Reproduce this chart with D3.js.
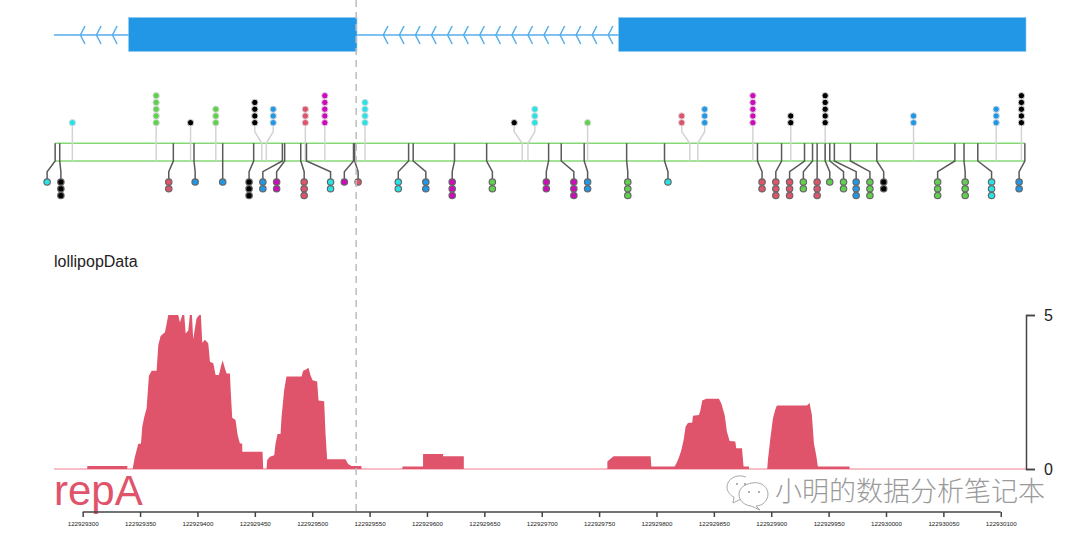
<!DOCTYPE html>
<html><head><meta charset="utf-8">
<script src="https://cdn.jsdelivr.net/npm/d3@7"></script>
<style>html,body{margin:0;background:#fff}svg{display:block}text{font-family:"Liberation Sans",Arial,sans-serif}</style>
</head><body><svg id="c" width="1080" height="540"></svg>
<script>
const base = 122929000;
const xDomain = [275, 1122];
const xTicks = [300,350,400,450,500,550,600,650,700,750,800,850,900,950,1000,1050,1100];
const yTicks = [0,5];
const geneSpan = [275,1122];
const exons = [[340,539],[767,1122]];
const intronArrows = [298,312,326,562,576,590,604,618,632,646,660,674,688,702,716,730,744,758];
const cutLine = 539;

const upPos   = [291,364,394,416,456,460,494,511,546,683,688,740,829,836,884,917,947,1024,1096,1118];
const upHead  = [291,364,394,416,450,466,494,511,546,676,694,740,822,842,884,917,947,1024,1096,1118];
const upCount = [1,5,1,3,4,3,3,5,4,1,3,1,2,3,5,2,5,2,3,5];
const upColor = ["cyan","green","black","green","black","blue","red","magenta","cyan","black","cyan","green","red","blue","magenta","black","black","blue","blue","black"];

const lowPos   = [276,280,379,397,422,449,474,476,490,495,536,537,584,588,624,652,706,717,737,774,807,888,909,929,936,940,947,951,955,969,992,1060,1068,1080,1121];
const lowHead  = [269,281,375,398,422,445,457,469,493,516,528,540,575,599,622,657,704,728,740,775,810,892,904,916,928,940,951,963,974,986,998,1045,1069,1092,1116];
const lowCount = [1,3,2,1,1,3,2,2,3,2,1,1,2,2,3,2,2,3,2,3,1,2,3,3,2,3,1,2,3,3,2,3,3,3,2];
const lowColor = ["cyan","black","red","blue","blue","black","blue","magenta","red","cyan","magenta","red","cyan","blue","magenta","green","magenta","magenta","blue","green","cyan","red","red","red","green","red","green","green","blue","green","black","green","green","cyan","blue"];

const palette = {cyan:"#28E2E5",black:"#000000",green:"#61D04F",red:"#DF536B",magenta:"#CD0BBC",blue:"#2297E6"};

const covPos = [304,304,338.9,338.9,343.5,345.5,348.4,350.8,351.9,353.7,355.7,357.7,360.1,364.4,365.9,367.9,371.7,374.6,383.3,384.7,386.8,388.5,389.7,392,393.4,395.2,396.3,397.8,399.2,401.6,403,404.2,406.5,409.4,410.9,413.8,415.8,418.7,420.1,421.9,423.9,425.4,428.3,429.1,430.3,433.2,435,437,439,439.1,456.7,457.3,460.2,460.8,463.1,466.9,468,469.8,472.4,473.3,475.6,477.6,490.7,492.1,495,496.8,498.5,500.3,504.3,505.5,510.4,511.6,513,529,531.3,534.2,542.9,542.9,
578.6,578.6,596.6,596.6,614.1,614.1,632.1,632.1,
757.2,757.2,759.2,762.7,794.9,795.5,815.8,817.3,819.3,821.6,823.7,825.4,827.4,831.2,831.8,837,838.2,839.9,843.4,854.4,856.5,859.4,861.4,863.7,868.7,869.5,874.5,875.9,880.6,880.6,
896.5,897.1,899.1,901.5,903.5,904.9,931.1,933.4,935.4,937.2,939.2,940.6,968.2,968.2];
const covVal = [0,.1,.1,0,0,.4,.81,.83,1.37,1.7,1.97,3.02,3.19,3.19,4.03,4.32,4.44,5,5,4.76,5,5,4.4,4.5,5,5,4.21,4.57,4.89,5,5,4.1,4.2,4.08,3.48,3.43,3.05,3.05,3.27,3.53,3.27,3.1,3.1,2.45,1.66,1.59,1.1,.83,.83,.56,.56,0,0,.29,.4,.45,.81,1.14,1.14,1.7,2.57,3,3,3.19,3.24,3.29,3.04,2.88,2.84,2.22,2.2,1.15,.32,.32,.16,.1,.1,0,
0,.08,.08,.49,.49,.41,.41,0,
0,.24,.31,.41,.41,.08,.08,.18,.35,.6,.95,1.38,1.49,1.51,1.73,1.75,1.89,2.22,2.28,2.28,2.13,1.75,1.21,.91,.89,.67,.67,.08,.08,0,
0,.29,.95,1.65,1.92,2.06,2.06,2.14,1.75,.83,.45,.08,.08,0];

const x = d3.scaleLinear().domain(xDomain).range([54,1026]);
const y = d3.scaleLinear().domain([0,5]).range([469,315]);
const svg = d3.select("#c");

// gene model
const geneBlue = "#2297E6";
const g = svg.append("g");
g.append("line").attr("x1",x(geneSpan[0])).attr("x2",x(geneSpan[1])).attr("y1",35).attr("y2",35)
  .attr("stroke","#55AEEC").attr("stroke-width",1.6);
g.selectAll("path.arr").data(intronArrows).join("path").attr("class","arr")
  .attr("d",d=>`M${x(d)+4.6},26 L${x(d)},35 L${x(d)+4.6},44`)
  .attr("fill","none").attr("stroke","#55AEEC").attr("stroke-width",1.5);
g.selectAll("rect").data(exons).join("rect")
  .attr("x",d=>x(d[0])).attr("width",d=>x(d[1])-x(d[0])).attr("y",17.5).attr("height",34)
  .attr("fill",geneBlue).attr("stroke","#8CC8F0").attr("stroke-width",.6);

// lollipop track
const lineTop = 143.3, lineBot = 161;
const lp = svg.append("g");
[lineTop,lineBot].forEach(v=>lp.append("line").attr("x1",x(xDomain[0])+1).attr("x2",x(xDomain[1])-1).attr("y1",v).attr("y2",v)
  .attr("stroke","#85D975").attr("stroke-width",1.6));

const spacing = 6.75;
const pathGen = d3.line();
upPos.forEach((p,i)=>{
  const hx = x(upHead[i]), sx = x(p);
  const pts = sx===hx ? [[sx,lineBot],[hx,122.7]] : [[sx,lineBot],[sx,lineTop],[hx,131.7],[hx,122.7]];
  lp.append("path").attr("d",pathGen(pts)).attr("fill","none").attr("stroke","#D4D4D4").attr("stroke-width",1.5);
  d3.range(upCount[i]).forEach(k=>{
    lp.append("circle").attr("cx",hx).attr("cy",122.7-k*spacing).attr("r",3.2)
      .attr("fill",palette[upColor[i]]).attr("stroke","#DDDDDD").attr("stroke-width",1);
  });
});
lowPos.forEach((p,i)=>{
  const hx = x(lowHead[i]), sx = x(p);
  lp.append("path").attr("d",pathGen([[sx,lineTop],[sx,lineBot],[hx,171.7],[hx,182]]))
    .attr("fill","none").attr("stroke","#5A5A5A").attr("stroke-width",1.5);
  d3.range(lowCount[i]).forEach(k=>{
    lp.append("circle").attr("cx",hx).attr("cy",182+k*spacing).attr("r",3.2)
      .attr("fill",palette[lowColor[i]]).attr("stroke","#666666").attr("stroke-width",1.2);
  });
});
svg.append("text").attr("x",54).attr("y",266.5).attr("font-size",16).attr("fill","#222").text("lollipopData");

// coverage track
const covColor = "#DF536B";
const area = d3.area().x(d=>x(d[0])).y0(y(0)).y1(d=>y(d[1]));
svg.append("line").attr("x1",x(xDomain[0])).attr("x2",x(xDomain[1])).attr("y1",y(0)).attr("y2",y(0))
  .attr("stroke","#F4A9B6").attr("stroke-width",1.5);
const segments = [];
let cur = [];
covPos.forEach((p,i)=>{
  cur.push([p,covVal[i]]);
  if(covVal[i]===0 && cur.length>1 && cur.some(d=>d[1]>0)){segments.push(cur);cur=[];}
});
svg.selectAll("path.cov").data(segments).join("path").attr("class","cov").attr("d",area).attr("fill",covColor);
svg.append("text").attr("x",54).attr("y",505).attr("font-size",42).attr("fill",covColor).text("repA");

// y axis
const yAxis = svg.append("g").attr("transform","translate(1026,0)")
  .call(d3.axisRight(y).tickValues(yTicks).tickSize(9).tickSizeOuter(9).tickPadding(9).tickFormat(d3.format("d")));
yAxis.selectAll("path,line").attr("stroke","#444").attr("stroke-width",1.5);
yAxis.selectAll("text").attr("font-size",16).attr("fill","#222").attr("font-family",'"Liberation Sans"');

// x axis
const xAxis = svg.append("g").attr("transform","translate(0,512)")
  .call(d3.axisBottom(x).tickValues(xTicks).tickSize(5).tickSizeOuter(0).tickPadding(5).tickFormat(d=>String(base+d)));
xAxis.selectAll("path,line").attr("stroke","#444").attr("stroke-width",1.5);
xAxis.select("path.domain").attr("d",`M${x(xTicks[0])},0H${x(xTicks[xTicks.length-1])}`);
xAxis.selectAll("text").attr("font-size",6.2).attr("fill","#222").attr("font-family",'"Liberation Sans"');

// cut line
svg.append("line").attr("x1",x(cutLine)-.8).attr("x2",x(cutLine)-.8).attr("y1",0).attr("y2",514)
  .attr("stroke","#BDBDBD").attr("stroke-width",1.5).attr("stroke-dasharray","7 5");

// watermark
const wm = svg.append("g").attr("fill","none").attr("stroke","#A8A8A8").attr("stroke-width",1);
wm.append("path").attr("d","M746,477 C735,473 727,480 727,487 C727,492 731,496 734,497 L733,503 L741,499 L746,499");
wm.append("path").attr("d","M752,483 C762,481 768,488 768,494 C768,501 762,506 756,506 L760,510 L751,506 C743,505 739,500 739,494 C739,488 745,484 752,483 Z").attr("fill","#fff");
[[737,484],[745,484],[749,492],[759,492]].forEach(p=>wm.append("circle").attr("cx",p[0]).attr("cy",p[1]).attr("r",1).attr("fill","#999").attr("stroke","none"));
svg.append("text").attr("x",775).attr("y",501).attr("font-size",27).attr("font-weight",300)
  .style("font-family",'"Noto Sans CJK SC"').attr("fill","#9a9a9a").text("小明的数据分析笔记本");
</script></body></html>
